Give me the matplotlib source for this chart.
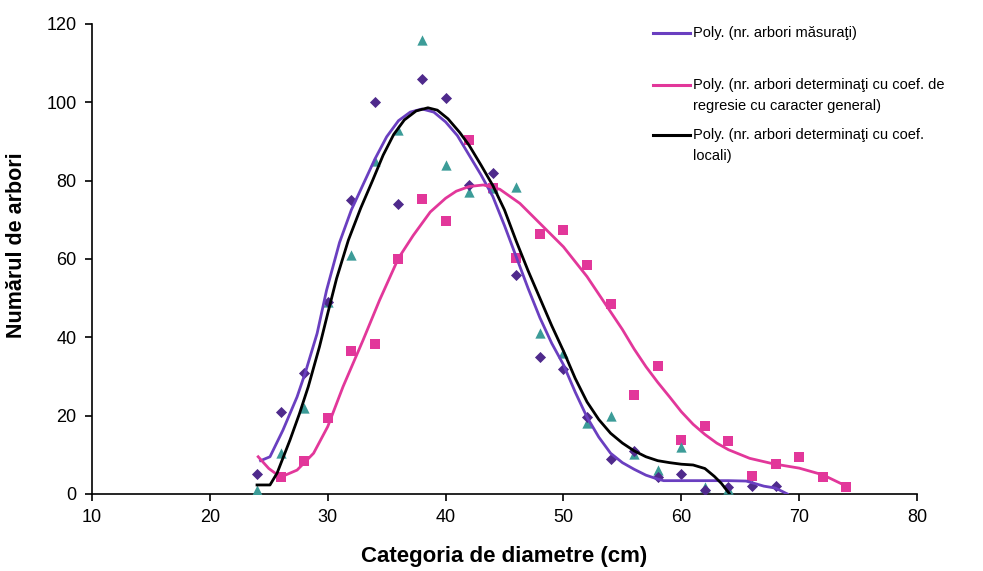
import matplotlib
matplotlib.use("Agg")
import matplotlib.pyplot as plt
from matplotlib.lines import Line2D

# scatter data (diameter class, number of trees)
diam_measured = [24, 26, 28, 30, 32, 34, 36, 38, 40, 42, 44, 46, 48, 50, 52, 54, 56, 58, 60, 62, 64, 66, 68]
trees_measured = [5, 21, 31, 49, 75, 100, 74, 106, 101, 79, 82, 56, 35, 32, 19.6, 9, 11, 4.4, 5, 1, 1.9, 2, 2]

diam_general = [26, 28, 30, 32, 34, 36, 38, 40, 42, 44, 46, 48, 50, 52, 54, 56, 58, 60, 62, 64, 66, 68, 70, 72, 74]
trees_general = [4.4, 8.5, 19.5, 36.5, 38.3, 60, 75.4, 69.6, 90.4, 78, 60.2, 66.5, 67.3, 58.4, 48.6, 25.3, 32.6, 13.7, 17.3, 13.6, 4.6, 7.7, 9.5, 4.4, 1.9]

diam_local = [24, 26, 28, 30, 32, 34, 36, 38, 40, 42, 44, 46, 48, 50, 52, 54, 56, 58, 60, 62, 64]
trees_local = [1, 10.5, 22, 49, 61, 85, 93, 116, 84, 77, 78, 78.3, 41, 36, 18, 20, 10.2, 6.2, 12.1, 1.8, 1.3]

# trendlines
poly_measured_x = [24.3, 25.1, 26.2, 27.4, 28.1, 29.1, 29.9, 31.0, 32.0, 33.0, 34.0, 35.0, 36.0, 37.0, 38.0,
                   39.0, 40.0, 41.0, 42.0, 43.0, 44.0, 45.0, 46.0, 47.0, 48.0, 49.0, 50.0, 51.0, 52.0, 53.0,
                   54.0, 55.0, 56.0, 57.0, 58.0, 58.5, 60.0, 62.0, 64.0, 65.5, 66.2, 67.0, 68.0, 69.0]
poly_measured_y = [8.5, 9.5, 16.3, 24.8, 31, 41, 52, 64.2, 72.5, 79, 85.5, 91.2, 95.3, 97.5, 98.3,
                   97.5, 95, 91.5, 86.5, 81.5, 76, 68.5, 60.5, 52.5, 45, 38.5, 33, 26, 19.6, 14.5,
                   10.4, 8, 6.3, 4.8, 3.8, 3.4, 3.4, 3.4, 3.4, 3.3, 2.7, 2, 1.5, 0]

poly_general_x = [24.1, 25.0, 26.0, 27.4, 28.8, 30.0, 31.3, 33.0, 34.4, 36.0, 37.25, 38.7, 40.0, 40.9, 42.0, 43.2,
                  44.6, 46.3, 48.0, 50.0, 52.0, 53.0, 54.0, 55.0, 56.0, 57.0, 58.0, 59.0, 60.0, 61.0, 62.0,
                  63.0, 64.0, 65.8, 67.8, 70.0, 72.0, 74.0]
poly_general_y = [9.5, 6.5, 4.3, 6.1, 10.4, 17.2, 27.4, 39.3, 49.5, 60.2, 66, 72, 75.5, 77.3, 78.5, 78.9,
                  77.8, 74.2, 69.1, 63.1, 55.5, 51, 46.5, 42, 37, 32.5, 28.5, 24.8, 21, 17.8, 15.2,
                  13, 11.3, 9.1, 7.7, 6.6, 4.9, 2]

poly_local_x = [24.0, 25.1, 25.7, 26.8, 27.6, 28.35, 29.3, 30.0, 30.75, 31.75, 32.8, 33.8, 34.7, 35.6, 36.5, 37.5,
                38.5, 39.3, 40.2, 41.2, 42.0, 43.0, 44.0, 45.0, 46.0, 47.0, 48.0, 49.0, 50.0, 51.0, 52.0,
                53.0, 54.0, 55.0, 56.0, 57.0, 58.0, 59.0, 60.0, 61.0, 62.0, 62.8, 63.4, 64.1]
poly_local_y = [2.3, 2.3, 5.3, 13.8, 20.5, 27.4, 37.6, 46.1, 55, 64.8, 73, 80, 86.5, 91.8, 95.5, 97.8,
                98.6, 98, 95.8, 92.3, 89, 84, 78.8, 72.5, 64.5, 57, 50, 43, 36.5, 29.5, 23.5,
                19, 15.5, 13, 11, 9.5, 8.5, 8, 7.6, 7.4, 6.5, 4.5, 2.7, 0]

labels = ["Poly. (nr. arbori măsuraţi)",
          "Poly. (nr. arbori determinaţi cu coef. de\nregresie cu caracter general)",
          "Poly. (nr. arbori determinaţi cu coef.\nlocali)"]

c_purple_pt = "#4f2a8c"
c_purple_ln = "#6a3fc0"
c_pink = "#e2379a"
c_teal = "#3c9c98"

plt.rcParams["font.family"] = ["Liberation Sans", "DejaVu Sans"]

fig = plt.figure(figsize=(9.83, 5.71), dpi=100)
ax = fig.add_axes([0.0936, 0.1349, 0.8393, 0.8231])

ax.scatter(diam_general, trees_general, marker="s", s=42, color=c_pink, zorder=3, linewidths=0)
ax.scatter(diam_local, trees_local, marker="^", s=55, color=c_teal, zorder=3, linewidths=0)
ax.scatter(diam_measured, trees_measured, marker="D", s=32, color=c_purple_pt, zorder=3, linewidths=0)

ax.plot(poly_measured_x, poly_measured_y, color=c_purple_ln, lw=2, zorder=4)
ax.plot(poly_general_x, poly_general_y, color=c_pink, lw=2, zorder=4)
ax.plot(poly_local_x, poly_local_y, color="black", lw=2, zorder=4)

ax.set_xlim(10, 80)
ax.set_ylim(0, 120)
ax.set_xticks(range(10, 81, 10))
ax.set_yticks(range(0, 121, 20))
ax.spines["top"].set_visible(False)
ax.spines["right"].set_visible(False)
ax.tick_params(direction="out", length=5, width=1.2, labelsize=13, pad=6)
for s in ["left", "bottom"]:
    ax.spines[s].set_linewidth(1.2)

ax.set_xlabel("Categoria de diametre (cm)", fontsize=16, fontweight="bold", labelpad=14)
ax.set_ylabel("Numărul de arbori", fontsize=15.5, fontweight="bold")
ax.yaxis.set_label_coords(-0.079, 0.53)

# legend drawn at the top right
leg_colors = [c_purple_ln, c_pink, "black"]
leg_y = [33, 85, 135]
for lab, col, yy in zip(labels, leg_colors, leg_y):
    fy = 1 - yy / 571
    fig.add_artist(Line2D([653 / 983, 690 / 983], [fy, fy], color=col, lw=2.2))
    fig.text(693 / 983, fy + 7 / 571, lab, fontsize=10.5, va="top", ha="left", linespacing=1.65)

fig.savefig("out.png", dpi=100)
